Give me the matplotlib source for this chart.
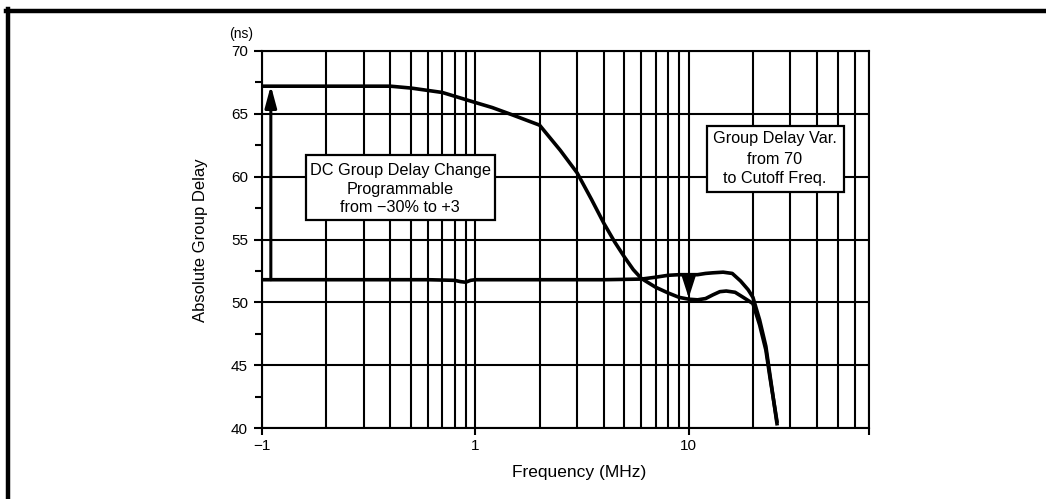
import matplotlib
matplotlib.use("Agg")
import matplotlib.pyplot as plt
from matplotlib.ticker import FixedLocator, LogLocator, NullFormatter, FixedFormatter, MultipleLocator
from matplotlib.patches import Rectangle
from matplotlib.lines import Line2D

plt.rcParams['font.family'] = ['Liberation Sans', 'DejaVu Sans']

# ---- data ----
freq_a = [0.1, 0.2, 0.3, 0.4, 0.5, 0.7, 0.8, 1.0, 1.2, 1.5, 2.0, 2.5, 3.0, 3.5, 4.0,
          4.5, 5.0, 5.5, 6.0, 7.0, 8.0, 9.0, 10.0, 11.0, 12.0, 13.0, 14.0, 15.0, 16.5,
          18.0, 20.0, 21.5, 23.0, 24.0, 26.0]
delay_a = [67.2, 67.2, 67.2, 67.2, 67.05, 66.7, 66.4, 65.9, 65.5, 64.9, 64.1, 62.1,
           60.3, 58.2, 56.3, 54.8, 53.6, 52.6, 51.9, 51.2, 50.75, 50.4, 50.25, 50.2,
           50.3, 50.6, 50.85, 50.9, 50.8, 50.4, 49.9, 48.2, 46.2, 44.1, 40.4]

freq_b = [0.1, 0.3, 0.6, 0.8, 0.85, 0.9, 0.95, 1.0, 2.0, 4.0, 6.0, 7.0, 8.0, 9.0,
          10.0, 11.0, 12.0, 13.0, 14.5, 16.0, 17.5, 19.0, 20.0, 21.5, 23.0, 24.0, 26.0]
delay_b = [51.8, 51.8, 51.8, 51.75, 51.65, 51.6, 51.75, 51.8, 51.8, 51.8, 51.85, 52.0,
           52.15, 52.2, 52.2, 52.2, 52.3, 52.35, 52.4, 52.3, 51.7, 51.0, 50.4, 48.6,
           46.5, 44.3, 40.2]

x_major = [0.1, 1, 10, 70]
x_major_labels = ['\u22121', '1', '10', '']
y_major = [40, 45, 50, 55, 60, 65, 70]

W, H = 1046, 499
fig = plt.figure(figsize=(W / 100, H / 100), dpi=100)
fig.patch.set_facecolor('white')

def fx(px):
    return px / W

def fy(py):
    return 1 - py / H

ax = fig.add_axes([fx(262), fy(428), fx(869) - fx(262), fy(51) - fy(428)])
ax.set_xscale('log')
ax.set_xlim(0.1, 70)
ax.set_ylim(40, 70)

lw_grid = 1.5
ax.xaxis.set_major_locator(FixedLocator(x_major))
ax.xaxis.set_major_formatter(FixedFormatter(x_major_labels))
ax.xaxis.set_minor_locator(LogLocator(base=10, subs=[2, 3, 4, 5, 6, 7, 8, 9], numticks=20))
ax.xaxis.set_minor_formatter(NullFormatter())
ax.yaxis.set_major_locator(FixedLocator(y_major))
ax.yaxis.set_minor_locator(MultipleLocator(2.5))

ax.grid(True, which='major', axis='both', color='black', lw=lw_grid)
ax.grid(True, which='minor', axis='x', color='black', lw=lw_grid)
ax.tick_params(axis='x', which='major', direction='out', length=5, width=lw_grid,
               labelsize=11, pad=3, bottom=True, top=False)
ax.tick_params(axis='x', which='minor', length=0)
ax.tick_params(axis='y', which='major', direction='out', length=6, width=lw_grid,
               labelsize=11, pad=4, left=True, right=False)
ax.tick_params(axis='y', which='minor', direction='out', length=5, width=lw_grid,
               left=True, right=False)
for sp in ax.spines.values():
    sp.set_linewidth(lw_grid)
    sp.set_color('black')

ax.plot(freq_a, delay_a, color='black', lw=2.6, solid_capstyle='butt',
        solid_joinstyle='round', zorder=5)
ax.plot(freq_b, delay_b, color='black', lw=2.6, solid_capstyle='butt',
        solid_joinstyle='round', zorder=5)

# arrows
ax.annotate('', xy=(0.11, 67.25), xytext=(0.11, 51.8),
            arrowprops=dict(arrowstyle='-|>,head_length=1.3,head_width=0.35',
                            color='black', lw=2.2, shrinkA=0, shrinkB=0), zorder=6)
ax.annotate('', xy=(10, 50.35), xytext=(10, 52.25),
            arrowprops=dict(arrowstyle='-|>,head_length=1.4,head_width=0.45',
                            color='black', lw=1.5, shrinkA=0, shrinkB=0), zorder=6)

# text boxes (drawn in figure pixel coordinates)
def box(x0, y0, x1, y1, lines, ys, cx):
    r = Rectangle((fx(x0), fy(y1)), fx(x1) - fx(x0), fy(y0) - fy(y1),
                  transform=fig.transFigure, facecolor='white', edgecolor='black',
                  lw=1.6, zorder=10)
    fig.patches.append(r)
    for t, yy in zip(lines, ys):
        fig.text(fx(cx), fy(yy), t, ha='center', va='center', fontsize=11.7, zorder=11)

box(306, 155, 495, 220,
    ['DC Group Delay Change', 'Programmable', 'from \u221230% to +3'],
    [171, 190, 208], 400)
box(707, 126, 844, 192,
    ['Group Delay Var.', 'from 70', 'to Cutoff Freq.'],
    [139, 159, 179], 775)

fig.text(fx(241), fy(34), '(ns)', ha='center', va='center', fontsize=10)
fig.text(fx(200), fy(240), 'Absolute Group Delay', rotation=90, ha='center',
         va='center', fontsize=12)
fig.text(fx(579), fy(472), 'Frequency (MHz)', ha='center', va='center', fontsize=12.5)

# outer frame lines (top and left)
fig.lines.append(Line2D([fx(6), 1], [fy(10.5), fy(10.5)], transform=fig.transFigure,
                        color='black', lw=3.2))
fig.lines.append(Line2D([fx(8), fx(8)], [fy(9), 0], transform=fig.transFigure,
                        color='black', lw=3.2))

fig.savefig('out.png', dpi=100, facecolor='white')
